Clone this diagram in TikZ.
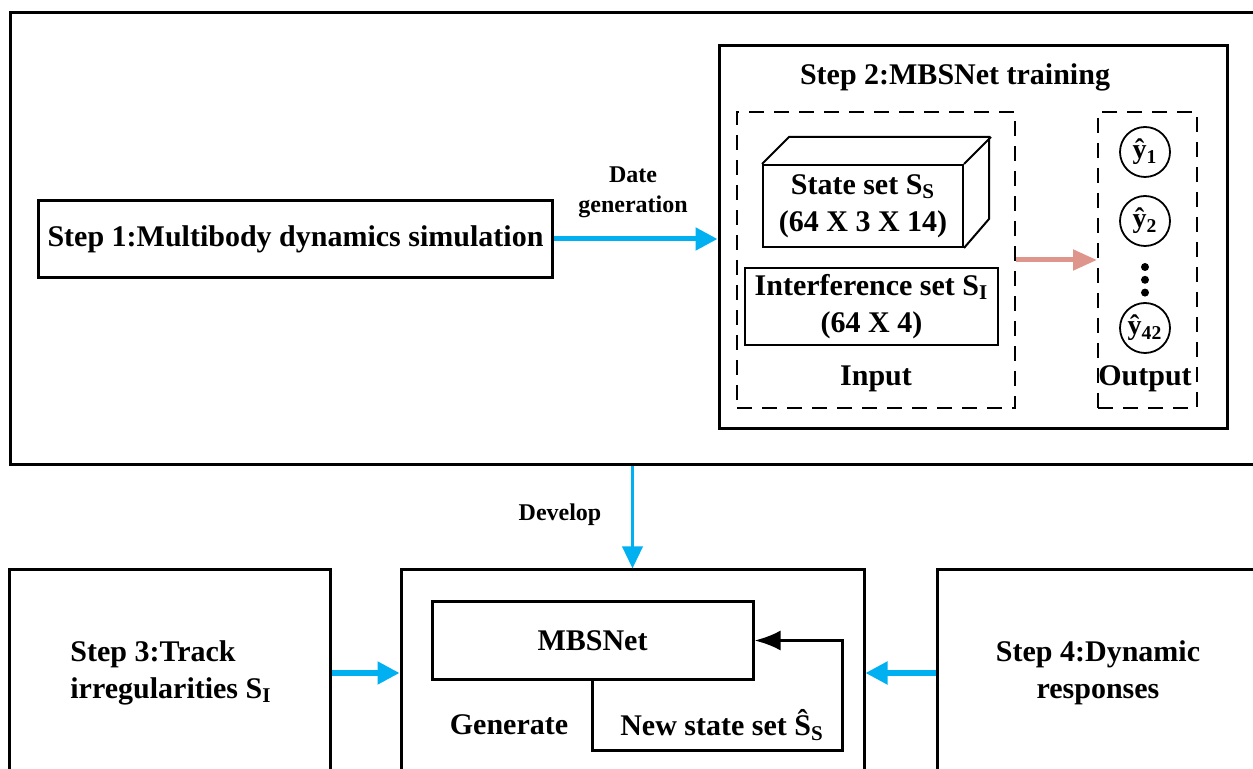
\documentclass[tikz,border=0pt]{standalone}
\usepackage{fontspec}
\setmainfont{Liberation Serif}
\usepackage{xcolor}
\usepackage{tikz}
\usetikzlibrary{positioning,arrows.meta}
\definecolor{arrowblue}{RGB}{0,176,240}
\definecolor{arrowpink}{RGB}{222,150,140}
\tikzstyle{bigbox} = [rectangle, draw=black, line width=1.5pt, inner sep=0pt]
\tikzstyle{stepbox} = [rectangle, draw=black, line width=1.5pt, align=center, inner sep=0pt]
\tikzstyle{setbox} = [rectangle, draw=black, line width=1pt, align=center, inner sep=0pt]
\tikzstyle{dashbox} = [rectangle, draw=black, line width=1pt, dash pattern=on 7.5pt off 5pt, inner sep=0pt]
\tikzstyle{yhat} = [circle, draw=black, line width=0.9pt, minimum size=25pt, inner sep=0pt, font=\bfseries\fontsize{14}{16}\selectfont]
\tikzstyle{dotnode} = [circle, fill=black, minimum size=4pt, inner sep=0pt]
\tikzstyle{smalllbl} = [align=center, font=\bfseries\fontsize{12}{15}\selectfont]
\tikzstyle{bluearrow} = [line width=2.5pt, draw=arrowblue, -{Triangle[length=11pt,width=11pt]}]
\tikzstyle{devarrow} = [line width=1.75pt, draw=arrowblue, -{Triangle[length=11pt,width=10pt]}]
\tikzstyle{pinkarrow} = [line width=2.5pt, draw=arrowpink, -{Triangle[length=12pt,width=10pt]}]
\tikzstyle{backarrow} = [line width=1.5pt, -{Latex[length=13pt,width=10pt]}]

\begin{document}
\begin{tikzpicture}[x=0.5pt,y=-0.5pt,every node/.style={font=\bfseries\fontsize{15}{18.5}\selectfont}]

	\useasboundingbox (0,0) rectangle (1253,769);
	\clip (0,0) rectangle (1253,769);

	% upper part
	\node (sim) [bigbox,minimum width=632.5pt,minimum height=226pt] at (642.5,239) {};
	\node (step1) [stepbox,minimum width=257pt,minimum height=38.5pt] at (295.5,239) {Step 1:Multibody dynamics simulation};
	\node (train) [bigbox,minimum width=254pt,minimum height=191.5pt] at (973,237.5) {};
	\node (title) at (955,77) {Step 2:MBSNet training};
	\node (input) [dashbox,minimum width=139pt,minimum height=148pt] at (876,260) {};
	\node (output) [dashbox,minimum width=49.5pt,minimum height=148pt] at (1147.5,260) {};

	\node (state) [setbox,minimum width=100pt,minimum height=41pt] at (863,206) {State set S\textsubscript{S}\\(64 X 3 X 14)};
	\draw [line width=1pt] (state.north west) -- ++(27,-27) -- ++(200,0) -- ++(0,82) -- (state.south east)
		(state.north east) -- ++(27,-27);
	\node (interf) [setbox,minimum width=126.5pt,minimum height=38.5pt] at (871.5,306.5) {Interference set S\textsubscript{I}\\(64 X 4)};
	\node (inlbl) at (876,379) {Input};

	\node (y1) [yhat] at (1145,152) {ŷ\textsubscript{1}};
	\node (y2) [yhat] at (1145,221) {ŷ\textsubscript{2}};
	\node (d1) [dotnode] at (1145,267) {};
	\node (d2) [dotnode,below=2pt of d1] {};
	\node (d3) [dotnode,below=2pt of d2] {};
	\node (y42) [yhat] at (1145,328) {ŷ\textsubscript{42}};
	\node (outlbl) at (1145,379) {Output};

	\node (datelbl) [smalllbl] at (633,192) {Date\\generation};
	\node (devlbl) [smalllbl] at (560,515) {Develop};

	\draw [bluearrow] (step1.east) -- (step1.east -| train.west);
	\draw [pinkarrow] (input.east) -- (output.west);

	% lower part
	\node (track) [bigbox,minimum width=160.5pt,minimum height=115pt] at (169.5,685) {};
	\node (gen) [bigbox,minimum width=231.5pt,minimum height=115pt] at (632.5,685) {};
	\node (resp) [bigbox,minimum width=176.5pt,minimum height=115pt] at (1113.5,685) {};

	\node (trktxt) [anchor=west,align=left,inner sep=0pt] at (70,673) {Step 3:Track\\irregularities S\textsubscript{I}};
	\node (resptxt) [align=center] at (1098,673) {Step 4:Dynamic\\responses};

	\node (mbs) [stepbox,minimum width=160.5pt,minimum height=38.5pt] at (592.5,640.5) {MBSNet};
	\node (gentxt) at (509,725) {Generate};
	\node (newtxt) at (722,725) {New state set Ŝ\textsubscript{S}};
	\coordinate (fb) at (842,750);

	\draw [devarrow] (sim.south -| gen.north) -- (gen.north);
	\draw [bluearrow] (trktxt -| track.east) -- (trktxt -| gen.west);
	\draw [bluearrow] (resptxt -| resp.west) -- (resptxt -| gen.east);
	\draw [backarrow] (mbs.south) |- (fb) |- (mbs.east);

\end{tikzpicture}
\end{document}
